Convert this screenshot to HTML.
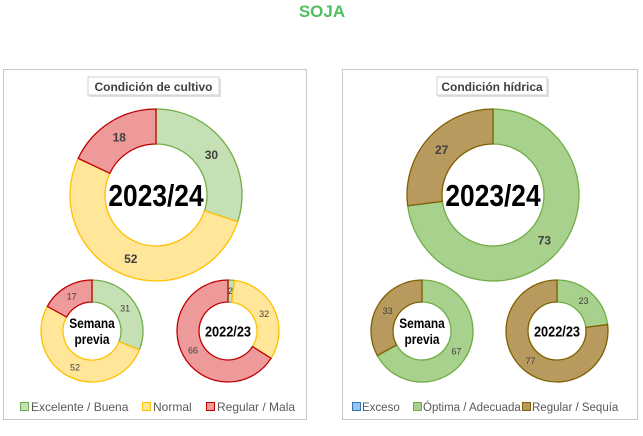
<!DOCTYPE html>
<html><head><meta charset="utf-8"><style>
body{margin:0;width:643px;height:431px;background:#fff;font-family:"Liberation Sans",sans-serif;overflow:hidden}
</style></head><body>
<svg id="s" width="643" height="431" xmlns="http://www.w3.org/2000/svg" font-family="Liberation Sans, sans-serif">
<text x="322" y="17" text-anchor="middle" font-size="17" font-weight="bold" fill="#4fbf5f">SOJA</text>
<rect x="3.5" y="69.5" width="303" height="350" fill="#fff" stroke="#c8c8c8"/>
<rect x="342.5" y="69.5" width="295" height="350" fill="#fff" stroke="#c8c8c8"/>
<rect x="89" y="79" width="132" height="18" fill="#000" opacity="0.12"/>
<rect x="88" y="77" width="131" height="18" fill="#fff" stroke="#d0d0d0"/>
<text x="153.5" y="91" text-anchor="middle" font-size="12" font-weight="bold" fill="#404040">Condición  de cultivo</text>
<rect x="438" y="79" width="111" height="18" fill="#000" opacity="0.12"/>
<rect x="437" y="77" width="110" height="18" fill="#fff" stroke="#d0d0d0"/>
<text x="492" y="91" text-anchor="middle" font-size="12" font-weight="bold" fill="#404040">Condición  hídrica</text>
<g id="d"></g>
<g font-size="12" fill="#595959">
<rect x="20.5" y="402.5" width="8" height="8" fill="#c5e0b4" stroke="#70ad47"/><text x="31" y="411">Excelente / Buena</text>
<rect x="142.5" y="402.5" width="8" height="8" fill="#ffe699" stroke="#ffc000"/><text x="153" y="411">Normal</text>
<rect x="206.5" y="402.5" width="8" height="8" fill="#ee9a9a" stroke="#c00000"/><text x="217" y="411">Regular / Mala</text>
<rect x="352.5" y="402.5" width="8" height="8" fill="#9dc3e6" stroke="#2e75b6"/><text x="362" y="411" font-size="11.5">Exceso</text>
<rect x="413.5" y="402.5" width="8" height="8" fill="#a9d18e" stroke="#70ad47"/><text x="423" y="411" font-size="11.5">Óptima / Adecuada</text>
<rect x="522.5" y="402.5" width="8" height="8" fill="#b89a5e" stroke="#7f6000"/><text x="532" y="411" font-size="11.5">Regular / Sequía</text>
</g>
</svg>
<script>
var G=document.getElementById('d'),h='';
var C={g:['#c5e0b4','#70ad47'],y:['#ffe699','#ffc000'],r:['#ee9a9a','#c00000'],w:['#a9d18e','#70ad47'],b:['#b89a5e','#7f6000']};
function pt(cx,cy,R,a){return [cx+R*Math.sin(a),cy-R*Math.cos(a)];}
function donut(cx,cy,R,r,vals,fs,label,lfs){
 var a=0;
 vals.forEach(function(v){
  var f=v[0]/100,a2=a+f*2*Math.PI,lg=f>0.5?1:0;
  var p1=pt(cx,cy,R,a),p2=pt(cx,cy,R,a2),p3=pt(cx,cy,r,a2),p4=pt(cx,cy,r,a);
  h+='<path d="M'+p1+'A'+R+','+R+' 0 '+lg+' 1 '+p2+'L'+p3+'A'+r+','+r+' 0 '+lg+' 0 '+p4+'Z" fill="'+C[v[1]][0]+'" stroke="'+C[v[1]][1]+'" stroke-width="1.3"/>';
  var m=pt(cx,cy,(R+r)/2,(a+a2)/2);
  h+='<text x="'+m[0]+'" y="'+(m[1]+fs*0.35)+'" text-anchor="middle" font-size="'+fs+'" font-weight="'+(fs>10?'bold':'normal')+'" fill="#404040">'+v[0]+'</text>';
  a=a2;
 });
 label.forEach(function(t,i){
  var y=cy+lfs*0.36+(i-(label.length-1)/2)*lfs*1.15;
  h+='<text transform="translate('+cx+','+y+') scale(0.85,1)" text-anchor="middle" font-size="'+lfs+'" font-weight="bold" fill="#000">'+t+'</text>';
 });
}
donut(156,195,86,51,[[30,'g'],[52,'y'],[18,'r']],12,['2023/24'],31);
donut(92,331,51,29,[[31,'g'],[52,'y'],[17,'r']],9,['Semana','previa'],14);
donut(228,331,51,29,[[2,'g'],[32,'y'],[66,'r']],9,['2022/23'],15);
donut(493,195,86,51,[[73,'w'],[27,'b']],12,['2023/24'],31);
donut(422,331,51,29,[[67,'w'],[33,'b']],9,['Semana','previa'],14);
donut(557,331,51,29,[[23,'w'],[77,'b']],9,['2022/23'],15);
G.innerHTML=h;
</script>
</body></html>
